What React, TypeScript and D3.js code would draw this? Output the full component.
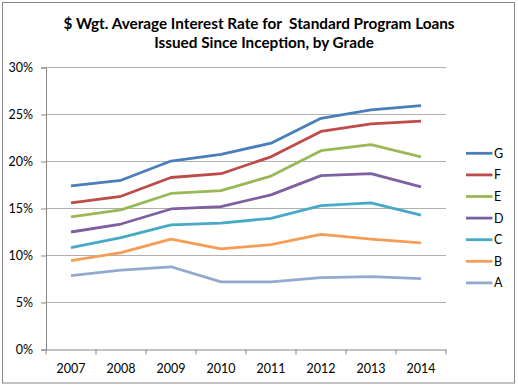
import React, { useRef, useEffect } from 'react';
import * as d3 from 'd3';

// constants
const width = 518;
const height = 386;
const margin = { top: 67.5, right: 72, bottom: 36.5, left: 46 };
const innerWidth = width - margin.left - margin.right; // 400
const innerHeight = height - margin.top - margin.bottom; // 282

// data
const years = ['2007', '2008', '2009', '2010', '2011', '2012', '2013', '2014'];
const grades = ['G', 'F', 'E', 'D', 'C', 'B', 'A'];
const gradeG = [17.4, 18.0, 20.05, 20.75, 21.95, 24.6, 25.5, 25.95];
const gradeF = [15.6, 16.3, 18.3, 18.7, 20.5, 23.2, 24.0, 24.3];
const gradeE = [14.1, 14.85, 16.6, 16.9, 18.45, 21.15, 21.8, 20.5];
const gradeD = [12.5, 13.35, 14.95, 15.2, 16.45, 18.5, 18.7, 17.3];
const gradeC = [10.85, 11.9, 13.25, 13.45, 13.95, 15.3, 15.6, 14.3];
const gradeB = [9.45, 10.3, 11.75, 10.7, 11.15, 12.25, 11.75, 11.35];
const gradeA = [7.85, 8.45, 8.8, 7.2, 7.2, 7.65, 7.75, 7.55];
const yTicks = [0, 5, 10, 15, 20, 25, 30];
const colours = ['#4A7EBB', '#BE4B48', '#98B954', '#7D60A0', '#46AAC5', '#F59D56', '#93A9CF'];

const seriesValues = [gradeG, gradeF, gradeE, gradeD, gradeC, gradeB, gradeA];
const series = grades.map((g, i) => ({ grade: g, values: seriesValues[i], colour: colours[i] }));

const font = 'Lato, "Open Sans", sans-serif';

const App = () => {
  const gRef = useRef<SVGGElement>(null);

  useEffect(() => {
    const g = d3.select(gRef.current);
    g.selectAll('*').remove();

    const xScale = d3.scaleBand().domain(years).range([0, innerWidth]);
    const yScale = d3.scaleLinear().domain([0, 30]).range([innerHeight, 0]);

    // gridlines
    g.append('g')
      .selectAll('line')
      .data(yTicks.filter(d => d > 0))
      .join('line')
      .attr('x1', 0)
      .attr('x2', innerWidth)
      .attr('y1', d => yScale(d))
      .attr('y2', d => yScale(d))
      .attr('stroke', '#B0B0B0')
      .attr('stroke-width', 1);

    // y axis
    const yAxis = g.append('g')
      .call(d3.axisLeft(yScale).tickValues(yTicks).tickSize(5).tickPadding(8).tickFormat(d => `${d}%`));
    yAxis.select('.domain').attr('stroke', '#868686');
    yAxis.selectAll('.tick line').attr('stroke', '#868686');
    yAxis.selectAll('text').attr('font-family', font).attr('font-size', 12.5).attr('fill', '#000');

    // x axis
    const xAxis = g.append('g')
      .attr('transform', `translate(0, ${innerHeight})`)
      .call(d3.axisBottom(xScale).tickSize(0).tickPadding(15));
    xAxis.select('.domain').attr('stroke', '#868686');
    xAxis.selectAll('text').attr('font-family', font).attr('font-size', 12.5).attr('fill', '#000');
    xAxis.selectAll('.tick line').remove();
    // tick marks between categories
    g.append('g')
      .selectAll('line')
      .data(d3.range(years.length + 1))
      .join('line')
      .attr('x1', i => i * xScale.bandwidth())
      .attr('x2', i => i * xScale.bandwidth())
      .attr('y1', innerHeight)
      .attr('y2', innerHeight + 5)
      .attr('stroke', '#868686');

    // lines
    const line = d3.line<number>()
      .x((d, i) => (xScale(years[i]) as number) + xScale.bandwidth() / 2)
      .y(d => yScale(d));

    g.append('g')
      .selectAll('path')
      .data([...series].reverse())
      .join('path')
      .attr('d', d => line(d.values))
      .attr('fill', 'none')
      .attr('stroke', d => d.colour)
      .attr('stroke-width', 2.8)
      .attr('stroke-linejoin', 'round');

    // legend
    const legend = g.append('g')
      .attr('transform', `translate(${innerWidth + 20}, ${153.3 - margin.top})`);
    const rows = legend.selectAll('g')
      .data(series)
      .join('g')
      .attr('transform', (d, i) => `translate(0, ${i * 21.6})`);
    rows.append('line')
      .attr('x1', 0)
      .attr('x2', 26.5)
      .attr('stroke', d => d.colour)
      .attr('stroke-width', 2.8);
    rows.append('text')
      .attr('x', 28)
      .attr('dy', '0.36em')
      .attr('font-family', font)
      .attr('font-size', 12.5)
      .text(d => d.grade);
  }, []);

  return (
    <svg width={width} height={height} style={{ position: 'absolute', left: 0, top: 0 }}>
      <rect x={2.5} y={2.5} width={512} height={380.5} fill="#fff" stroke="#868686" strokeWidth={1} />
      <text x={259} y={29} textAnchor="middle" fontFamily={font} fontWeight="bold" fontSize={15.3} style={{ whiteSpace: 'pre' }}>
        {'$ Wgt. Average Interest Rate for  Standard Program Loans'}
      </text>
      <text x={264} y={48} textAnchor="middle" fontFamily={font} fontWeight="bold" fontSize={15.3}>
        Issued Since Inception, by Grade
      </text>
      <g ref={gRef} transform={`translate(${margin.left},${margin.top})`} />
    </svg>
  );
};

export default App;
